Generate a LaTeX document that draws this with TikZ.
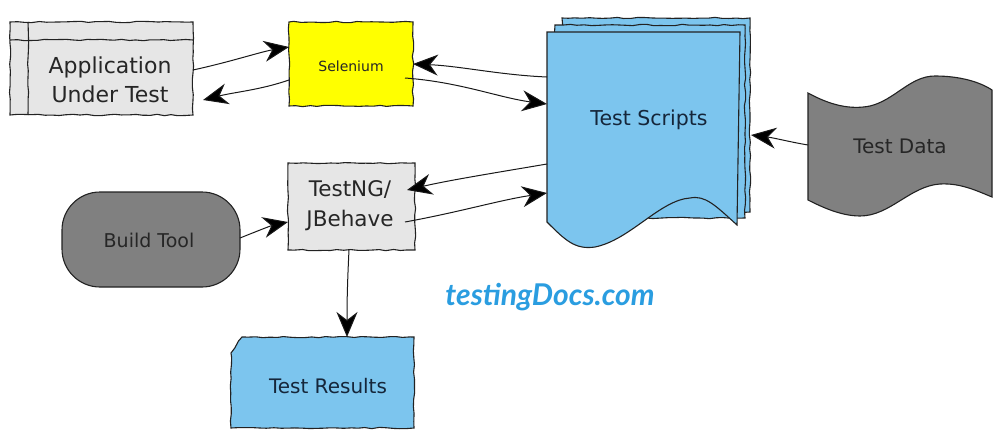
\documentclass[tikz,border=0pt]{standalone}
\usepackage{fontspec}
\setmainfont{DejaVu Sans}
\newfontfamily\logofont{Lato}
\usetikzlibrary{arrows.meta,decorations.pathmorphing}
\definecolor{skyb}{HTML}{7CC5EE}
\definecolor{lgray}{HTML}{E6E6E6}
\definecolor{dgray}{HTML}{808080}
\definecolor{yel}{HTML}{FFFF00}
\definecolor{logob}{HTML}{2A9DE0}
\definecolor{edge}{HTML}{222222}
\definecolor{navy}{HTML}{15263A}
\begin{document}
\begin{tikzpicture}[x=1pt,y=-1pt,
  sketch/.style={draw=edge,line width=1.1pt,decorate,decoration={random steps,segment length=7pt,amplitude=0.7pt}},
  conn/.style={draw=black!90,line width=1pt,-{Stealth[length=25pt,width=21pt,inset=8pt,fill=black]}},
  lbl/.style={inner sep=0pt,align=center,text=black!85}]
\pgfmathsetseed{7}
\useasboundingbox (0,0) rectangle (999,439);
% Application Under Test
\path[sketch,fill=lgray] (10,22) rectangle (193,115);
\draw[sketch] (28,22) -- (28,115);
\draw[sketch] (10,40) -- (193,40);
\node[lbl,font=\fontsize{22}{29}\selectfont] (app) at (110,80) {Application\\Under Test};
\coordinate (appE) at (193,70);
\coordinate (appR) at (203,100);
% Selenium
\path[sketch,fill=yel] (289,22) rectangle (413,106);
\node[lbl,font=\fontsize{14}{16}\selectfont] (sel) at (351,66) {Selenium};
\coordinate (selW) at (289,47);
\coordinate (selW2) at (289,80);
\coordinate (selE) at (413,64);
\coordinate (selE2) at (405,78);
% Test Scripts stack
\path[sketch,fill=skyb] (562,18) rectangle (750,212);
\path[sketch,fill=skyb] (555,25) rectangle (745,218);
\path[draw=edge,line width=1.1pt,fill=skyb] (547,32) -- (740,32) -- (737,225)
  .. controls (715,205) and (705,195) .. (690,198)
  .. controls (660,200) and (630,240) .. (595,247)
  .. controls (575,250) and (565,240) .. (547,222) -- cycle;
\node[lbl,text=navy,font=\fontsize{20.5}{24}\selectfont] (ts) at (649,120) {Test Scripts};
\coordinate (tsA) at (547,77);
\coordinate (tsB) at (547,104);
\coordinate (tsC) at (547,164);
\coordinate (tsD) at (547,193);
\coordinate (tsE) at (751,135);
% Test Data
\path[draw=edge,line width=1.1pt,fill=dgray] (808,93)
  .. controls (830,105) and (850,110) .. (870,106)
  .. controls (895,100) and (910,76) .. (935,76)
  .. controls (960,76) and (980,82) .. (992,90)
  -- (992,197)
  .. controls (975,190) and (960,183) .. (940,184)
  .. controls (910,186) and (890,216) .. (860,216)
  .. controls (840,216) and (820,206) .. (808,200) -- cycle;
\node[lbl,font=\fontsize{20}{24}\selectfont] (td) at (900,146) {Test Data};
\coordinate (tdW) at (808,145);
% Build Tool
\path[draw=edge,line width=1.1pt,fill=dgray,rounded corners=38pt] (62,192) rectangle (240,287);
\node[lbl,font=\fontsize{19}{22}\selectfont] (bt) at (149,240) {Build Tool};
\coordinate (btE) at (240,238);
% TestNG / JBehave
\path[sketch,fill=lgray] (288,163) rectangle (415,250);
\node[lbl,font=\fontsize{21.5}{30}\selectfont] (tng) at (350,206) {TestNG/\\JBehave};
\coordinate (tngW) at (288,222);
\coordinate (tngE) at (407,190);
\coordinate (tngE2) at (405,222);
\coordinate (tngS) at (349,250);
% Test Results
\path[sketch,fill=skyb] (231,353) -- (242,337) -- (414,337) -- (414,428) -- (231,428) -- cycle;
\node[lbl,text=navy,font=\fontsize{20}{24}\selectfont] (tr) at (328,386) {Test Results};
\coordinate (trN) at (347,337);
% logo
\node[inner sep=0pt,text=logob,font=\logofont\bfseries\itshape\fontsize{30}{34}\selectfont] (logo) at (550,297) {testingDocs.com};
% connectors
\draw[conn] (appE) .. controls (230,62) and (260,52) .. (selW);
\draw[conn] (selW2) .. controls (260,90) and (235,92) .. (appR);
\draw[conn] (tsA) .. controls (500,75) and (460,66) .. (selE);
\draw[conn] (selE2) .. controls (460,82) and (500,98) .. (tsB);
\draw[conn] (tsC) .. controls (500,172) and (450,180) .. (tngE);
\draw[conn] (tngE2) .. controls (460,212) and (500,200) .. (tsD);
\draw[conn] (btE) .. controls (255,232) and (270,226) .. (tngW);
\draw[conn] (tngS) .. controls (347,290) and (347,310) .. (trN);
\draw[conn] (tdW) .. controls (790,142) and (775,138) .. (tsE);
\end{tikzpicture}
\end{document}
